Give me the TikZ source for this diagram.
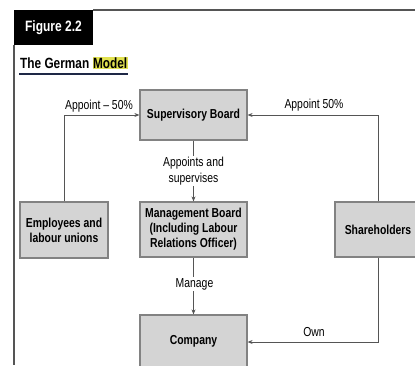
\documentclass[tikz,border=0pt]{standalone}
\usepackage{fontspec}
\setmainfont{Liberation Sans}[FakeStretch=0.8]
\usetikzlibrary{arrows.meta}
\definecolor{boxfill}{RGB}{212,212,212}
\definecolor{boxborder}{RGB}{130,130,130}
\definecolor{linecol}{RGB}{85,85,85}
\definecolor{hl}{RGB}{226,226,80}
\definecolor{navy}{RGB}{30,40,70}
\setlength{\fboxsep}{0.5pt}
\begin{document}
\begin{tikzpicture}[x=1pt,y=-1pt,
  box/.style={draw=boxborder, line width=1.2pt, fill=boxfill, inner sep=0pt, align=center,
    font=\fontsize{13}{15}\selectfont\bfseries},
  conn/.style={draw=linecol, line width=0.8pt, -{Stealth[length=5pt,width=4pt]}},
  lbl/.style={font=\fontsize{13}{16}\selectfont, text=black, inner sep=1pt, align=center},
  frame/.style={draw=linecol, line width=1.2pt}]
\useasboundingbox (0,0) rectangle (415,365);
\clip (0,0) rectangle (415,365);
% header
\fill[black] (14,10) rectangle (93,45);
\node[text=white, font=\fontsize{15}{18}\selectfont\bfseries, inner sep=0pt] (fig) at (53.5,28) {Figure 2.2};
\draw[frame] (93,10) -- (415,10);
\draw[frame] (14,45) -- (14,365);
% title
\node[anchor=west, inner sep=0pt, font=\fontsize{14.8}{17}\selectfont\bfseries] (title) at (20,63) {The German \colorbox{hl}{Model}};
\draw[navy, line width=1.5pt] (19,74) -- (128,74);
% boxes
\node[box, minimum width=107pt, minimum height=50pt] (sup) at (193.5,115) {Supervisory Board};
\node[box, minimum width=88pt, minimum height=56pt] (emp) at (64,230) {Employees and\\labour unions};
\node[box, minimum width=107pt, minimum height=55pt] (mgmt) at (193.5,229.5) {Management Board\\(Including Labour\\Relations Officer)};
\node[box, minimum width=86pt, minimum height=55pt] (share) at (378,229.5) {Shareholders};
\node[box, minimum width=107pt, minimum height=54pt] (comp) at (193.5,342) {};
\node[font=\fontsize{13}{15}\selectfont\bfseries, inner sep=0pt] (comptext) at (193.5,341) {Company};
% connectors
\draw[conn] (emp.north) |- (sup.west);
\draw[conn] (share.north) |- (sup.east);
\draw[conn] (share.south) |- (comp.east);
\draw[conn] (sup.south) -- (mgmt.north);
\draw[conn] (mgmt.south) -- (comp.north);
% labels
\node[lbl] (l1) at (99,106) {Appoint -- 50\%};
\node[lbl] (l2) at (314,105) {Appoint 50\%};
\node[lbl] (l3) at (314,332) {Own};
\node[lbl, fill=white] (l4) at (193.5,171) {Appoints and\\supervises};
\node[lbl, fill=white] (l5) at (194.5,284) {Manage};
\end{tikzpicture}
\end{document}
